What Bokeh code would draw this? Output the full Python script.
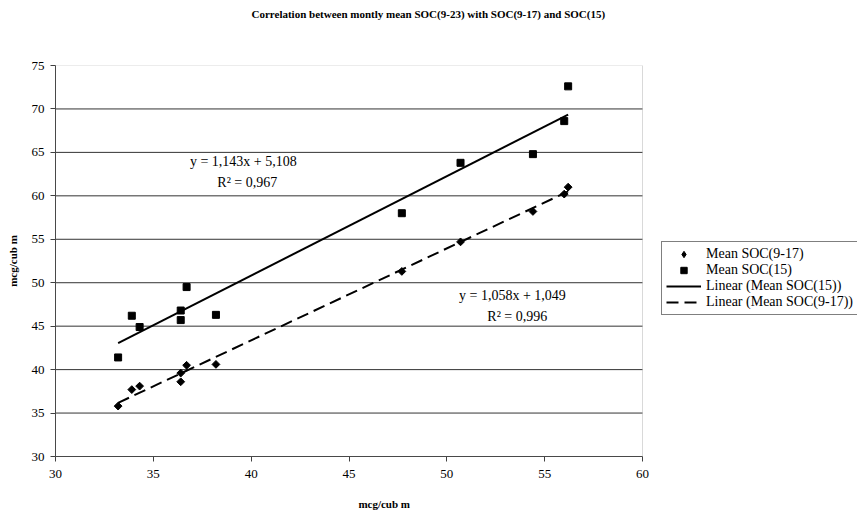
from bokeh.plotting import figure
from bokeh.models import (Range1d, Label, Legend, LegendItem, FixedTicker, Title,
                          BoxAnnotation, LinearAxis)
from bokeh.embed import file_html
from bokeh.resources import INLINE

# Monthly mean SOC(9-23) (x) vs SOC(9-17) and SOC(15)
soc_9_23 = [33.2, 33.9, 34.3, 36.4, 36.4, 36.7, 38.2, 47.7, 50.7, 54.4, 56.0, 56.2]
soc_9_17 = [35.8, 37.7, 38.1, 38.6, 39.6, 40.5, 40.6, 51.3, 54.7, 58.2, 60.2, 61.0]
soc_15   = [41.4, 46.2, 44.9, 45.7, 46.8, 49.5, 46.3, 58.0, 63.8, 64.8, 68.6, 72.6]

# Excel linear trend lines (slope, intercept)
fit_15 = (1.143, 5.108)
fit_9_17 = (1.058, 1.049)

x_ticks = [30, 35, 40, 45, 50, 55, 60]
y_ticks = [30, 35, 40, 45, 50, 55, 60, 65, 70, 75]
X_MIN, X_MAX = 30, 60
Y_MIN, Y_MAX = 30, 75

FONT = "Liberation Serif"

# the frame covers plot area + legend column; the plot area is 587 px of the 802 px frame
PLOT_W, FRAME_W = 587, 802
x_hi = X_MIN + (X_MAX - X_MIN) * FRAME_W / PLOT_W

p = figure(width=857, height=514, output_backend="svg", toolbar_location=None,
           title_location=None,
           x_range=Range1d(X_MIN, x_hi), y_range=Range1d(Y_MIN, Y_MAX),
           min_border_left=55, min_border_right=0, min_border_top=65, min_border_bottom=58)
p.background_fill_color = "white"
p.border_fill_color = "white"
p.outline_line_color = None
p.xgrid.visible = False
p.ygrid.visible = False

# horizontal gridlines of the plot area
grid_y = [t for t in y_ticks if Y_MIN < t < Y_MAX]
p.segment(x0=[X_MIN] * len(grid_y), x1=[X_MAX] * len(grid_y), y0=grid_y, y1=grid_y,
          line_color="#333333", line_width=1)
# plot-area border
p.add_layout(BoxAnnotation(left=X_MIN, right=X_MAX, bottom=Y_MIN, top=Y_MAX,
                           fill_alpha=0, line_color="#808080", line_width=1))

for ax, ticks in ((p.xaxis, x_ticks), (p.yaxis, y_ticks)):
    ax.ticker = FixedTicker(ticks=ticks)
    ax.axis_line_color = "#404040"
    ax.major_tick_line_color = "#404040"
    ax.major_tick_out = 5
    ax.major_tick_in = 0
    ax.minor_tick_line_color = None
    ax.major_label_text_font = FONT
    ax.major_label_text_font_size = "13px"
    ax.major_label_text_color = "black"
    ax.axis_label_text_font = FONT
    ax.axis_label_text_font_size = "11px"
    ax.axis_label_text_font_style = "bold"
    ax.axis_label_text_color = "black"

p.xaxis.bounds = (X_MIN, X_MAX)
p.xaxis.major_label_standoff = 8
p.xaxis.axis_label = None
p.yaxis.axis_label = "mcg/cub m"
p.yaxis.major_label_standoff = 6
p.yaxis.axis_label_standoff = 10

# x-axis title, carried as the single label of a bare axis so it sits where Excel put it
X_TITLE_AT = 46.8
xt = LinearAxis(ticker=FixedTicker(ticks=[X_TITLE_AT]),
                major_label_overrides={X_TITLE_AT: "mcg/cub m"},
                axis_line_color=None, major_tick_line_color=None, minor_tick_line_color=None,
                major_tick_out=0, major_tick_in=0, major_label_standoff=17,
                major_label_text_font=FONT, major_label_text_font_size="11px",
                major_label_text_font_style="bold", major_label_text_color="black")
p.add_layout(xt, "below")

lx = [min(soc_9_23), max(soc_9_23)]

r_d = p.scatter(soc_9_23, soc_9_17, marker="square", size=5.5, angle=0.785398,
                fill_color="black", line_color="black")
r_d_leg = p.scatter(soc_9_23, soc_9_17, marker="diamond", size=10,
                    fill_color="black", line_color="black", visible=False)
r_s = p.scatter(soc_9_23, soc_15, marker="square", size=7,
                fill_color="black", line_color="black")
r_l15 = p.line(lx, [fit_15[0] * v + fit_15[1] for v in lx], line_color="black", line_width=2)
r_l917 = p.line(lx, [fit_9_17[0] * v + fit_9_17[1] for v in lx], line_color="black",
                line_width=2, line_dash="12 6")

legend = Legend(items=[
    LegendItem(label="Mean SOC(9-17)", renderers=[r_d_leg]),
    LegendItem(label="Mean SOC(15)", renderers=[r_s]),
    LegendItem(label="Linear (Mean SOC(15))", renderers=[r_l15]),
    LegendItem(label="Linear (Mean SOC(9-17))", renderers=[r_l917]),
], location=(606, 141))
legend.border_line_color = "black"
legend.border_line_width = 1
legend.background_fill_color = "white"
legend.background_fill_alpha = 1
legend.label_text_font = FONT
legend.label_text_font_size = "14px"
legend.label_text_color = "black"
legend.glyph_width = 35
legend.glyph_height = 16
legend.label_height = 16
legend.spacing = 0
legend.padding = 4
legend.margin = 0
legend.label_standoff = 5
p.add_layout(legend)

def lab(x, y, t):
    p.add_layout(Label(x=x, y=y, text=t, text_align="center", text_baseline="middle",
                       text_font=FONT, text_font_size="14px", text_color="black"))

lab(39.6, 63.95, "y = 1,143x + 5,108")
lab(39.8, 61.55, "R² = 0,967")
lab(53.35, 48.5, "y = 1,058x + 1,049")
lab(53.6, 46.1, "R² = 0,996")

# spacer between the frame and the chart title, then the title itself
p.add_layout(Title(text=" ", text_font_size="10px", standoff=30), "above")
p.add_layout(Title(text="Correlation between montly mean SOC(9-23) with SOC(9-17) and SOC(15)",
                   align="left", offset=196, standoff=6, text_font=FONT,
                   text_font_size="11px", text_font_style="bold", text_color="black"),
             "above")

open("out.html", "w").write(file_html(p, INLINE))
